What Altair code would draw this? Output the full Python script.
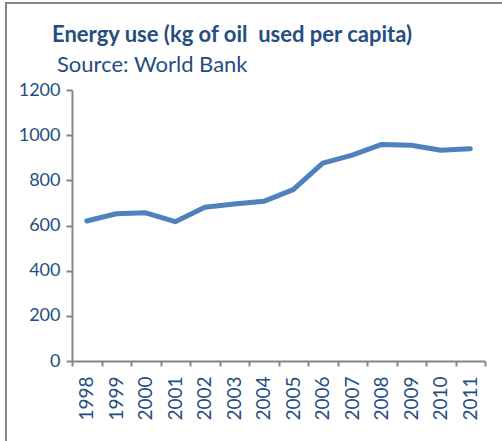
import altair as alt
import pandas as pd

# Energy use per capita (kg of oil equivalent), World Bank
years = ["1998", "1999", "2000", "2001", "2002", "2003", "2004",
         "2005", "2006", "2007", "2008", "2009", "2010", "2011"]
energy_use = [620, 652, 656, 617, 681, 695, 707,
              759, 876, 912, 959, 955, 933, 940]

title_text = "Energy use (kg of oil\u00a0 used per capita)"
source_text = "Source: World Bank"

df = pd.DataFrame({"year": years, "energy": energy_use})

TEXT = "#254e80"
AXIS = "#868686"
LINE = "#4f81bd"
FONT = "Lato"

line = alt.Chart(df).mark_line(
    color=LINE, strokeWidth=5, strokeCap="round", strokeJoin="round"
).encode(
    x=alt.X(
        "year:O",
        sort=years,
        scale=alt.Scale(paddingInner=0, paddingOuter=0),
        axis=alt.Axis(
            title=None,
            labelAngle=-90,
            labelAlign="right",
            labelBaseline="middle",
            labelPadding=10,
            tickBand="extent",
            tickSize=5,
        ),
    ),
    y=alt.Y(
        "energy:Q",
        scale=alt.Scale(domain=[0, 1200], nice=False),
        axis=alt.Axis(
            title=None,
            values=[0, 200, 400, 600, 800, 1000, 1200],
            format="d",
            tickSize=6,
            labelPadding=6,
            grid=False,
        ),
    ),
)

one = pd.DataFrame({"k": [0]})

# outer frame around the whole figure
frame = alt.Chart(one).mark_rect(
    fill=None, stroke=AXIS, strokeWidth=2, clip=False
).encode(
    x=alt.value(-66), x2=alt.value(460),
    y=alt.value(-87), y2=alt.value(400),
)

heading = alt.Chart(one).mark_text(
    text=title_text, font=FONT, fontSize=22, fontWeight="bold",
    color=TEXT, align="left", baseline="alphabetic",
).encode(x=alt.value(-20), y=alt.value(-48))

source = alt.Chart(one).mark_text(
    text=source_text, font=FONT, fontSize=22,
    color=TEXT, align="left", baseline="alphabetic",
).encode(x=alt.value(-15), y=alt.value(-18))

chart = alt.layer(frame, heading, source, line).properties(
    width=413,
    height=271,
    padding={"left": 72, "top": 90, "right": 17, "bottom": 80},
    autosize=alt.AutoSizeParams(type="none"),
).configure_view(
    stroke=None
).configure_axis(
    domainColor=AXIS,
    domainWidth=2,
    tickColor=AXIS,
    tickWidth=2,
    labelColor=TEXT,
    labelFont=FONT,
    labelFontSize=18,
).configure_axisX(
    labelFontSize=19,
)

chart.save("out.html", embed_options={"renderer": "svg", "actions": False})
